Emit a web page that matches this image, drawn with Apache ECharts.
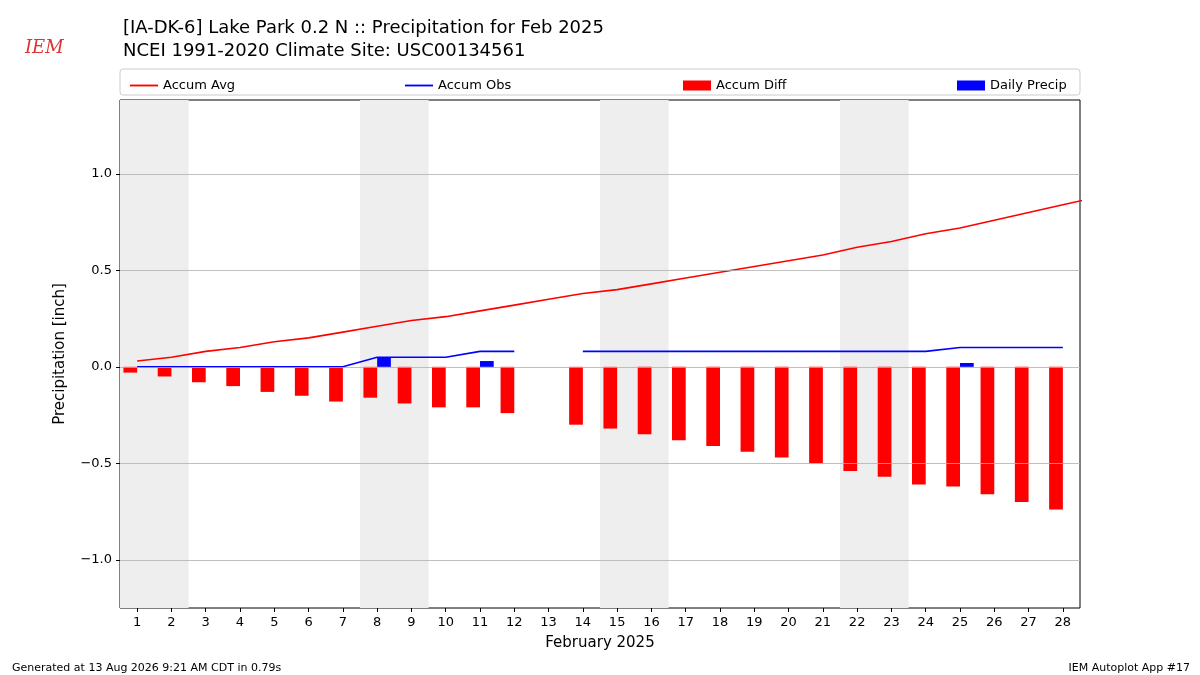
<!DOCTYPE html>
<html><head><meta charset="utf-8">
<script src="https://cdn.jsdelivr.net/npm/echarts@6/dist/echarts.min.js"></script>
<style>html,body{margin:0;padding:0;background:#fff}#c{width:1200px;height:675px}</style>
</head><body><div id="c"></div>
<script>
var days = [1,2,3,4,5,6,7,8,9,10,11,12,13,14,15,16,17,18,19,20,21,22,23,24,25,26,27,28,29];
var accumAvg = [0.03,0.05,0.08,0.10,0.13,0.15,0.18,0.21,0.24,0.26,0.29,0.32,0.35,0.38,0.40,0.43,0.46,0.49,0.52,0.55,0.58,0.62,0.65,0.69,0.72,0.76,0.80,0.84,0.88];
var accumObs = [0,0,0,0,0,0,0,0.05,0.05,0.05,0.08,0.08,null,0.08,0.08,0.08,0.08,0.08,0.08,0.08,0.08,0.08,0.08,0.08,0.10,0.10,0.10,0.10];
var accumDiff = [-0.03,-0.05,-0.08,-0.10,-0.13,-0.15,-0.18,-0.16,-0.19,-0.21,-0.21,-0.24,null,-0.30,-0.32,-0.35,-0.38,-0.41,-0.44,-0.47,-0.50,-0.54,-0.57,-0.61,-0.62,-0.66,-0.70,-0.74];
var dailyPrecip = [[8,0.05],[11,0.03],[25,0.02]];
var weekends = [[0.5,2.5],[7.5,9.5],[14.5,16.5],[21.5,23.5]];
var xTicks = days.slice(0, 28);
var yTicks = [-1,-0.5,0,0.5,1];

var chart = echarts.init(document.getElementById('c'));
var f = 'DejaVu Sans';

function pairs(arr){ return arr.map(function(v,i){ return [days[i], v]; }); }
function barRender(offset, color){
  return function(params, api){
    var x = api.value(0), y = api.value(1);
    var p0 = api.coord([x + offset - 0.2, 0]);
    var p1 = api.coord([x + offset + 0.2, y]);
    return {type:'rect', shape:{x:p0[0], y:Math.min(p0[1],p1[1]), width:p1[0]-p0[0], height:Math.abs(p1[1]-p0[1])}, style:{fill:color}};
  };
}

var option = {
  animation:false,
  textStyle:{fontFamily:f},
  title:[
    {text:'[IA-DK-6] Lake Park 0.2 N :: Precipitation for Feb 2025\nNCEI 1991-2020 Climate Site: USC00134561', left:118, top:12, textStyle:{fontSize:18, fontWeight:'normal', color:'#000', lineHeight:23, fontFamily:f}},
    {text:'Generated at 13 Aug 2026 9:21 AM CDT in 0.79s', left:7, top:658, textStyle:{fontSize:11, fontWeight:'normal', color:'#000', fontFamily:f}},
    {text:'IEM Autoplot App #17', right:5, top:658, textStyle:{fontSize:11, fontWeight:'normal', color:'#000', fontFamily:f}},
    {text:'IEM', left:20, top:34, textStyle:{fontSize:18, fontStyle:'italic', fontFamily:'DejaVu Serif', color:'#d33', fontWeight:'normal'}}
  ],
  graphic:[{type:'rect', shape:{x:120, y:69, width:960, height:26, r:3}, style:{fill:'none', stroke:'#ccc', lineWidth:1}}],
  legend:[
    {data:[{name:'Accum Avg', icon:'path://M0,0H30V2H0Z'}], left:125, top:74, itemWidth:28, itemHeight:2, textStyle:{fontSize:13, color:'#000'}},
    {data:[{name:'Accum Obs', icon:'path://M0,0H30V2H0Z'}], left:400, top:74, itemWidth:28, itemHeight:2, textStyle:{fontSize:13, color:'#000'}},
    {data:[{name:'Accum Diff', icon:'rect'}], left:678, top:74, itemWidth:28, itemHeight:10, textStyle:{fontSize:13, color:'#000'}},
    {data:[{name:'Daily Precip', icon:'rect'}], left:952, top:74, itemWidth:28, itemHeight:10, textStyle:{fontSize:13, color:'#000'}}
  ],
  grid:{left:120, right:120, top:100, bottom:67, show:true, borderColor:'#000', borderWidth:1},
  xAxis:{type:'value', min:0.5, max:28.5, position:'bottom',
    name:'February 2025', nameLocation:'middle', nameGap:28, nameTextStyle:{fontSize:15, color:'#000'},
    axisLine:{show:false, onZero:false}, splitLine:{show:false},
    axisTick:{show:true, customValues:xTicks, length:4, lineStyle:{color:'#000'}},
    axisLabel:{color:'#000', fontSize:13, customValues:xTicks}},
  yAxis:{type:'value', min:-1.25, max:1.383,
    name:'Precipitation [inch]', nameLocation:'middle', nameGap:52, nameTextStyle:{fontSize:15, color:'#000'},
    axisLine:{show:false}, splitLine:{show:false},
    axisTick:{show:true, customValues:yTicks, length:4, lineStyle:{color:'#000'}},
    axisLabel:{color:'#000', fontSize:13, customValues:yTicks,
      formatter:function(v){ return (v<0?'\u2212':'')+Math.abs(v).toFixed(1); }}},
  series:[
    {name:'shade', type:'line', data:[], silent:true,
      markArea:{silent:true, itemStyle:{color:'#eeeeee'}, data:weekends.map(function(w){ return [{xAxis:w[0]},{xAxis:w[1]}]; })},
      markLine:{silent:true, symbol:'none', label:{show:false}, lineStyle:{color:'#b0b0b0', type:'solid', width:0.8},
        data:yTicks.map(function(t){ return {yAxis:t}; })}},
    {name:'Accum Diff', type:'custom', renderItem:barRender(-0.2,'#ff0000'), itemStyle:{color:'#ff0000'},
      data:pairs(accumDiff).filter(function(d){ return d[1]!==null; }), z:3},
    {name:'Daily Precip', type:'custom', renderItem:barRender(0.2,'#0000ff'), itemStyle:{color:'#0000ff'},
      data:dailyPrecip, z:3},
    {name:'Accum Avg', type:'line', data:pairs(accumAvg), showSymbol:false, lineStyle:{color:'#ff0000', width:1.6}, itemStyle:{color:'#ff0000'}, z:4},
    {name:'Accum Obs', type:'line', data:pairs(accumObs), showSymbol:false, connectNulls:false, lineStyle:{color:'#0000ff', width:1.6}, itemStyle:{color:'#0000ff'}, z:4}
  ]
};
chart.setOption(option);
</script></body></html>
